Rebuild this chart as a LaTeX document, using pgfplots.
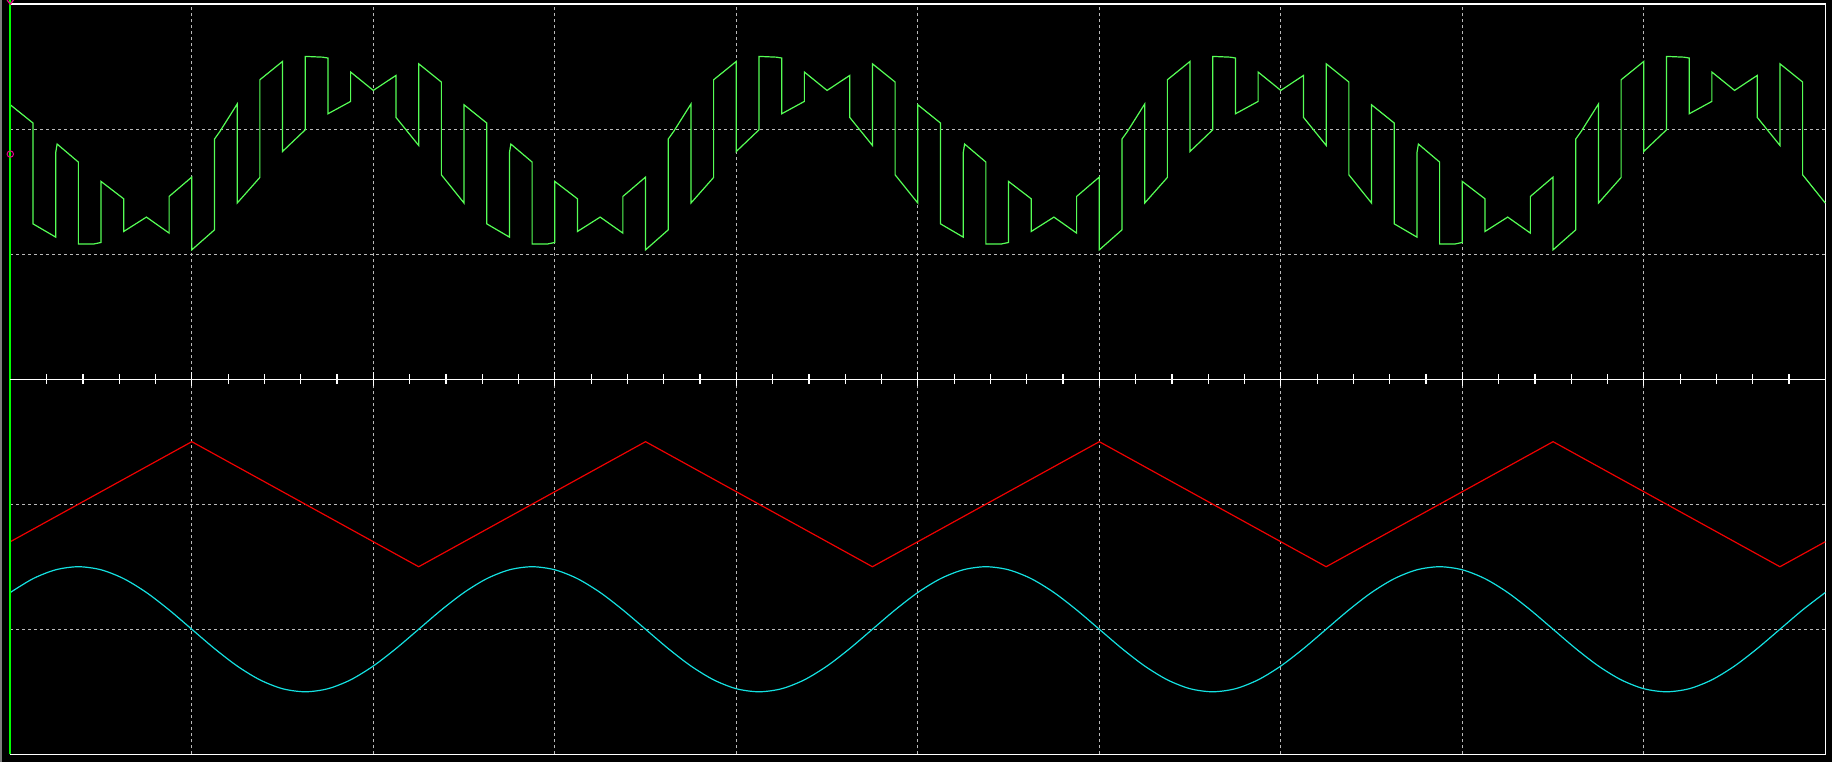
\documentclass[border=0pt]{standalone}
\usepackage{pgfplots}
\pgfplotsset{compat=1.18}
\definecolor{trgreen}{RGB}{85,255,85}
\definecolor{trcyan}{RGB}{20,225,225}
\definecolor{trred}{RGB}{240,0,0}
\definecolor{gridc}{RGB}{185,185,185}
\definecolor{edgegray}{RGB}{125,125,125}
\begin{document}
\begin{tikzpicture}
\fill[black] (-5.15pt,-3.85pt) rectangle (910.85pt,377.15pt);
\fill[edgegray] (-5.15pt,-3.85pt) rectangle (-4.05pt,377.15pt);
\begin{axis}[
  at={(0,0)}, anchor=south west,
  scale only axis, width=907.5pt, height=375.15pt,
  xmin=0, xmax=10, ymin=-3, ymax=3,
  xtick={1,...,9}, ytick={-2,-1,1,2},
  xticklabels={}, yticklabels={},
  tick style={draw=none},
  grid=major,
  major grid style={draw=gridc, line width=0.5pt, dash pattern=on 1.5pt off 1.5pt},
  axis line style={white, line width=0.6pt},
  clip=false,
]
% triangle carrier
\addplot[trred, line width=0.6pt] coordinates {
(0,-1.3) (1,-0.5) (2.25,-1.5) (3.5,-0.5) (4.75,-1.5) (6,-0.5) (7.25,-1.5) (8.5,-0.5) (9.75,-1.5) (10,-1.3)
};
% sine reference
\addplot[trcyan, line width=0.6pt, smooth] coordinates {
(0,-1.7061) (0.125,-1.5955) (0.25,-1.5245) (0.375,-1.5) (0.5,-1.5245) (0.625,-1.5955) (0.75,-1.7061) (0.875,-1.8455) (1,-2) (1.125,-2.1545) (1.25,-2.2939) (1.375,-2.4045) (1.5,-2.4755) (1.625,-2.5) (1.75,-2.4755) (1.875,-2.4045) (2,-2.2939) (2.125,-2.1545) (2.25,-2) (2.375,-1.8455)
(2.5,-1.7061) (2.625,-1.5955) (2.75,-1.5245) (2.875,-1.5) (3,-1.5245) (3.125,-1.5955) (3.25,-1.7061) (3.375,-1.8455) (3.5,-2) (3.625,-2.1545) (3.75,-2.2939) (3.875,-2.4045) (4,-2.4755) (4.125,-2.5) (4.25,-2.4755) (4.375,-2.4045) (4.5,-2.2939) (4.625,-2.1545) (4.75,-2) (4.875,-1.8455)
(5,-1.7061) (5.125,-1.5955) (5.25,-1.5245) (5.375,-1.5) (5.5,-1.5245) (5.625,-1.5955) (5.75,-1.7061) (5.875,-1.8455) (6,-2) (6.125,-2.1545) (6.25,-2.2939) (6.375,-2.4045) (6.5,-2.4755) (6.625,-2.5) (6.75,-2.4755) (6.875,-2.4045) (7,-2.2939) (7.125,-2.1545) (7.25,-2) (7.375,-1.8455)
(7.5,-1.7061) (7.625,-1.5955) (7.75,-1.5245) (7.875,-1.5) (8,-1.5245) (8.125,-1.5955) (8.25,-1.7061) (8.375,-1.8455) (8.5,-2) (8.625,-2.1545) (8.75,-2.2939) (8.875,-2.4045) (9,-2.4755) (9.125,-2.5) (9.25,-2.4755) (9.375,-2.4045) (9.5,-2.2939) (9.625,-2.1545) (9.75,-2) (9.875,-1.8455)
(10,-1.7061)
};
% sampled output
\addplot[trgreen, line width=0.6pt] coordinates {
(0,2.194) (0.125,2.048) (0.125,1.242) (0.25,1.136) (0.25,1.81) (0.258,1.88) (0.375,1.736) (0.375,1.08) (0.457,1.08) (0.5,1.093) (0.5,1.581) (0.625,1.442) (0.625,1.181) (0.75,1.296) (0.875,1.168) (0.875,1.461) (1.0,1.616) (1.0,1.034) (1.125,1.194) (1.125,1.92) (1.155,1.981) (1.25,2.2) (1.25,1.408) (1.375,1.613) (1.375,2.394) (1.5,2.541) (1.5,1.821) (1.625,1.994) (1.625,2.581) (1.72,2.575) (1.75,2.568) (1.75,2.122) (1.875,2.221) (1.875,2.456) (2.0,2.309) (2.125,2.429) (2.125,2.093) (2.25,1.869) (2.25,2.522) (2.375,2.376) (2.375,1.634) (2.5,1.408)
(2.5,2.194) (2.625,2.048) (2.625,1.242) (2.75,1.136) (2.75,1.81) (2.758,1.88) (2.875,1.736) (2.875,1.08) (2.957,1.08) (3.0,1.093) (3.0,1.581) (3.125,1.442) (3.125,1.181) (3.25,1.296) (3.375,1.168) (3.375,1.461) (3.5,1.616) (3.5,1.034) (3.625,1.194) (3.625,1.92) (3.655,1.981) (3.75,2.2) (3.75,1.408) (3.875,1.613) (3.875,2.394) (4.0,2.541) (4.0,1.821) (4.125,1.994) (4.125,2.581) (4.22,2.575) (4.25,2.568) (4.25,2.122) (4.375,2.221) (4.375,2.456) (4.5,2.309) (4.625,2.429) (4.625,2.093) (4.75,1.869) (4.75,2.522) (4.875,2.376) (4.875,1.634) (5.0,1.408)
(5.0,2.194) (5.125,2.048) (5.125,1.242) (5.25,1.136) (5.25,1.81) (5.258,1.88) (5.375,1.736) (5.375,1.08) (5.457,1.08) (5.5,1.093) (5.5,1.581) (5.625,1.442) (5.625,1.181) (5.75,1.296) (5.875,1.168) (5.875,1.461) (6.0,1.616) (6.0,1.034) (6.125,1.194) (6.125,1.92) (6.155,1.981) (6.25,2.2) (6.25,1.408) (6.375,1.613) (6.375,2.394) (6.5,2.541) (6.5,1.821) (6.625,1.994) (6.625,2.581) (6.72,2.575) (6.75,2.568) (6.75,2.122) (6.875,2.221) (6.875,2.456) (7.0,2.309) (7.125,2.429) (7.125,2.093) (7.25,1.869) (7.25,2.522) (7.375,2.376) (7.375,1.634) (7.5,1.408)
(7.5,2.194) (7.625,2.048) (7.625,1.242) (7.75,1.136) (7.75,1.81) (7.758,1.88) (7.875,1.736) (7.875,1.08) (7.957,1.08) (8.0,1.093) (8.0,1.581) (8.125,1.442) (8.125,1.181) (8.25,1.296) (8.375,1.168) (8.375,1.461) (8.5,1.616) (8.5,1.034) (8.625,1.194) (8.625,1.92) (8.655,1.981) (8.75,2.2) (8.75,1.408) (8.875,1.613) (8.875,2.394) (9.0,2.541) (9.0,1.821) (9.125,1.994) (9.125,2.581) (9.22,2.575) (9.25,2.568) (9.25,2.122) (9.375,2.221) (9.375,2.456) (9.5,2.309) (9.625,2.429) (9.625,2.093) (9.75,1.869) (9.75,2.522) (9.875,2.376) (9.875,1.634) (10.0,1.408)
};
% cursor line and channel markers
\addplot[green, line width=0.85pt] coordinates {(0,-3) (0,3.03)};
\addplot[only marks, mark=o, mark size=1.6pt, magenta, mark options={line width=0.5pt}] coordinates {(0,1.8)};
\addplot[only marks, mark=diamond, mark size=2pt, magenta, mark options={line width=0.6pt}] coordinates {(0,3.03)};
\end{axis}
\begin{axis}[
  at={(0,0)}, anchor=south west,
  scale only axis, width=907.5pt, height=375.15pt,
  xmin=0, xmax=10, ymin=-3, ymax=3,
  axis x line=middle, axis y line=none,
  x axis line style={white, line width=0.6pt, -},
  xtick={1,...,9}, minor xtick={0.2,0.4,...,9.9},
  xticklabels={},
  tick align=center,
  major tick length=7pt, minor tick length=5pt,
  every tick/.style={white, line width=0.6pt},
]
\end{axis}
\pgfresetboundingbox
\path[use as bounding box] (-5.15pt,-3.85pt) rectangle (910.85pt,377.15pt);
\end{tikzpicture}
\end{document}
